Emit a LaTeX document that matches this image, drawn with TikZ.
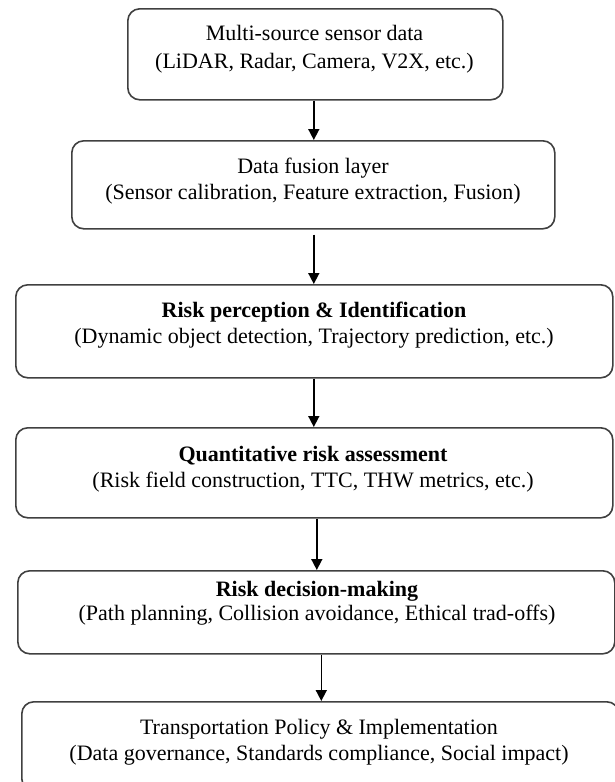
\documentclass[tikz,border=0pt]{standalone}
\usepackage{fontspec}
\setmainfont{Liberation Serif}
\usetikzlibrary{arrows.meta}
\begin{document}
\begin{tikzpicture}[x=1pt,y=-1pt,
  box/.style={draw=black!75,line width=1.6pt,rounded corners=12pt,rectangle,inner sep=0pt,anchor=north west},
  ttl/.style={anchor=base,inner sep=0pt,font=\fontsize{22}{26}\selectfont},
  arr/.style={line width=1.6pt,-{Triangle[width=11pt,length=11pt]}}]
\useasboundingbox (0,0) rectangle (615,782);
\clip (0,0) rectangle (615,782);
\node[box,minimum width=375pt,minimum height=91pt] (b1) at (127,8) {};
\node[box,minimum width=483pt,minimum height=88pt] (b2) at (71,140) {};
\node[box,minimum width=597pt,minimum height=93pt] (b3) at (15,284) {};
\node[box,minimum width=597pt,minimum height=90pt] (b4) at (15,427) {};
\node[box,minimum width=597pt,minimum height=83pt] (b5) at (17,570) {};
\node[box,minimum width=597pt,minimum height=89pt] (b6) at (21,701) {};
\node[ttl] (t1) at (314.5,40) {Multi-source sensor data};
\node[ttl] (s1) at (314.5,68) {(LiDAR, Radar, Camera, V2X, etc.)};
\node[ttl] (t2) at (313,173) {Data fusion layer};
\node[ttl] (s2) at (313,199) {(Sensor calibration, Feature extraction, Fusion)};
\node[ttl] (t3) at (314,317) {\bfseries Risk perception \& Identification};
\node[ttl] (s3) at (314,343) {(Dynamic object detection, Trajectory prediction, etc.)};
\node[ttl] (t4) at (313,461) {\bfseries Quantitative risk assessment};
\node[ttl] (s4) at (313,487) {(Risk field construction, TTC, THW metrics, etc.)};
\node[ttl] (t5) at (317,596) {\bfseries Risk decision-making};
\node[ttl] (s5) at (317,620) {(Path planning, Collision avoidance, Ethical trad-offs)};
\node[ttl] (t6) at (319,734) {Transportation Policy \& Implementation};
\node[ttl] (s6) at (319,760) {(Data governance, Standards compliance, Social impact)};
\draw[arr] ([xshift=-1.5pt]b1.south) -- ([xshift=-1.5pt]b1.south |- b2.north);
\draw[arr] ([xshift=0.5pt,yshift=-5pt]b2.south) -- ([xshift=0.5pt]b2.south |- b3.north);
\draw[arr] ([xshift=-0.5pt]b3.south) -- ([xshift=-0.5pt]b3.south |- b4.north);
\draw[arr] ([xshift=2.5pt]b4.south) -- ([xshift=2.5pt]b4.south |- b5.north);
\draw[arr] ([xshift=5pt]b5.south) -- ([xshift=5pt]b5.south |- b6.north);
\end{tikzpicture}
\end{document}
